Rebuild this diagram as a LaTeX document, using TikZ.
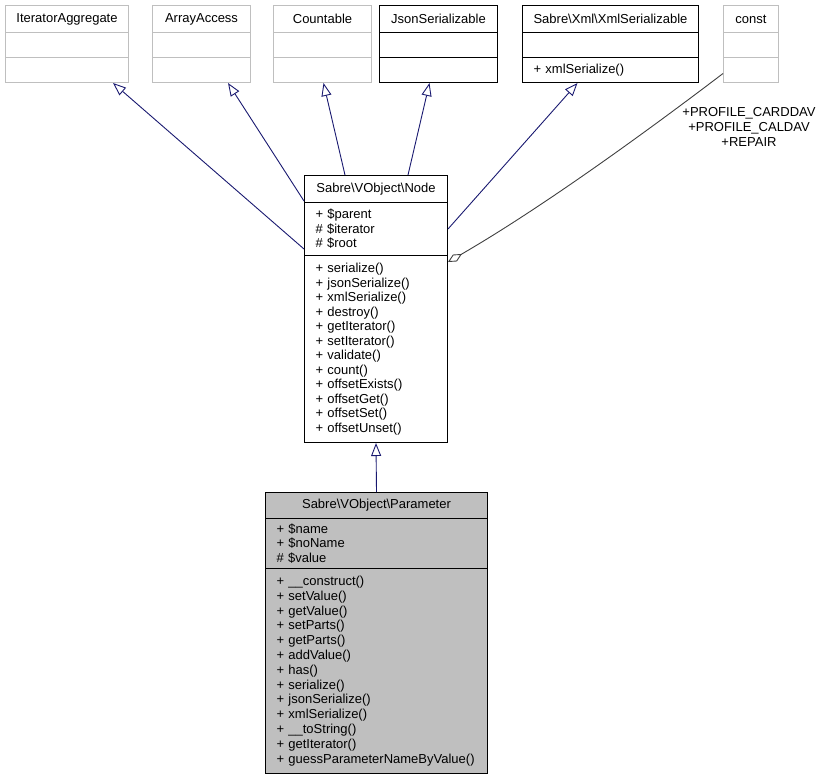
\documentclass[tikz,border=0pt]{standalone}
\usepackage{fontspec}
\setmainfont{Liberation Sans}
\usetikzlibrary{arrows.meta}

\definecolor{edgeblue}{HTML}{191970}
\definecolor{edgegray}{HTML}{404040}
\definecolor{boxgray}{HTML}{BFBFBF}
\newcommand{\umlsize}{\fontsize{13}{14.5}\selectfont}

\begin{document}
\begin{tikzpicture}[x=1pt,y=-1pt,
	cls/.style={draw=black, line width=1pt, anchor=north west, inner sep=0pt, font=\umlsize},
	ext/.style={cls, draw=boxgray},
	members/.style={align=left, inner xsep=11pt},
	inherit/.style={draw=edgeblue, line width=0.9pt, -{Triangle[open,length=13pt,width=10pt]}},
	usage/.style={draw=edgegray, line width=0.9pt, {Diamond[open,length=16pt,width=8pt]}-}]
			
			\useasboundingbox (0,0) rectangle (827,780);
			
			% base classes and interfaces
			\foreach \n/\st/\x/\w/\title/\ops in {
				ia/ext/5/123/IteratorAggregate/,
				aa/ext/152/98/ArrayAccess/,
				cnt/ext/273/98/Countable/,
				js/cls/379/118/JsonSerializable/,
				xs/cls/522/176/Sabre\textbackslash Xml\textbackslash XmlSerializable/+ xmlSerialize(),
				const/ext/723/55/const/}
			{
				\pgfmathsetmacro{\tw}{\w-22}
				\node[\st, minimum width=\w, minimum height=27] (\n-t) at (\x,5) {\title};
				\node[\st, minimum width=\w, minimum height=25] (\n-a) at (\x,32) {};
				\node[\st, members, text width=\tw pt, minimum height=25] (\n-m) at (\x,57) {\ops};
			}
			
			% Sabre\VObject\Node
			\node[cls, minimum width=143, minimum height=27] (node-t) at (304,175) {Sabre\textbackslash VObject\textbackslash Node};
			\node[cls, members, text width=121pt, minimum height=53] (node-a) at (304,202) {+ \$parent\\\# \$iterator\\\# \$root};
			\node[cls, members, text width=121pt, minimum height=187] (node-m) at (304,255) {+ serialize()\\+ jsonSerialize()\\+ xmlSerialize()\\+ destroy()\\+ getIterator()\\+ setIterator()\\+ validate()\\+ count()\\+ offsetExists()\\+ offsetGet()\\+ offsetSet()\\+ offsetUnset()};
			
			% Sabre\VObject\Parameter
			\node[cls, fill=boxgray, minimum width=222, minimum height=26] (param-t) at (265,492) {Sabre\textbackslash VObject\textbackslash Parameter};
			\node[cls, fill=boxgray, members, text width=200pt, minimum height=50, font=\fontsize{13}{14.8}\selectfont] (param-a) at (265,518) {+ \$name\\+ \$noName\\\# \$value};
			\node[cls, fill=boxgray, members, text width=200pt, minimum height=205, font=\fontsize{13}{14.8}\selectfont] (param-m) at (265,568) {+ \_\_construct()\\+ setValue()\\+ getValue()\\+ setParts()\\+ getParts()\\+ addValue()\\+ has()\\+ serialize()\\+ jsonSerialize()\\+ xmlSerialize()\\+ \_\_toString()\\+ getIterator()\\+ guessParameterNameByValue()};
			
			% inheritance
			\draw[inherit] ([yshift=7pt]node-a.south west) -- ([xshift=-16pt]ia-m.south east);
			\draw[inherit] ([yshift=2pt]node-t.south west) -- ([xshift=-23pt]aa-m.south east);
			\draw[inherit] ([xshift=41pt]node-t.north west) -- ([xshift=1pt]cnt-m.south);
			\draw[inherit] ([xshift=-40pt]node-t.north east) -- ([xshift=-9pt]js-m.south);
			\draw[inherit] (node-a.east) -- ([xshift=-33pt]xs-m.south);
			\draw[inherit] (param-t.north) -- (node-m.south);
			
			% usage of const
			\draw[usage] ([yshift=-7pt]node-m.north east) .. controls (555,200) and (675,110) .. ([yshift=-3.5pt]const-m.west);
			\node[font=\fontsize{13}{15}\selectfont, align=center] (roles) at (749,127) {+PROFILE\_CARDDAV\\+PROFILE\_CALDAV\\+REPAIR};
			\end{tikzpicture}
\end{document}
